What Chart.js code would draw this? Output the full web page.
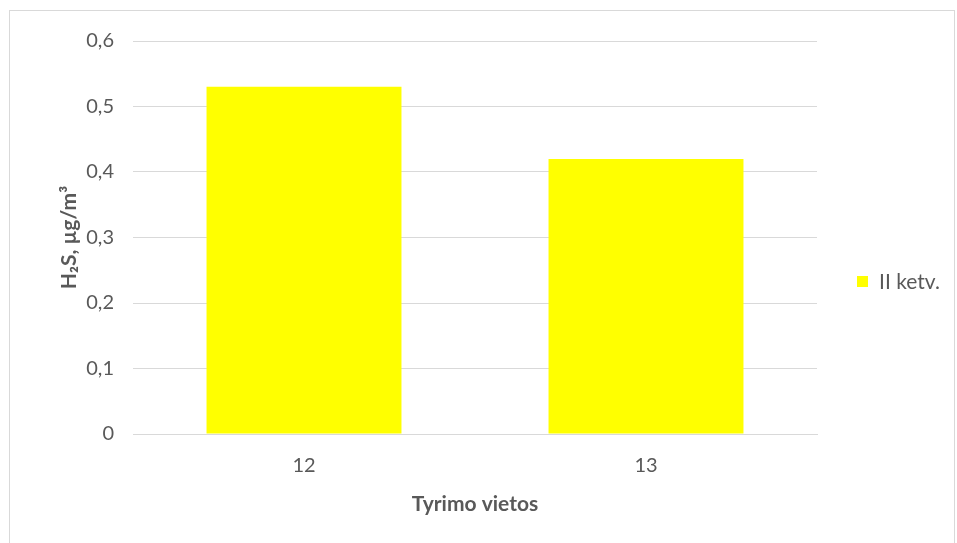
<!DOCTYPE html>
<html>
<head>
<meta charset="utf-8">
<script src="https://cdn.jsdelivr.net/npm/chart.js@4.4.0/dist/chart.umd.min.js"></script>
<style>
    html, body { margin: 0; padding: 0; background: #fff; }
    #wrap { position: relative; width: 957px; height: 543px; overflow: hidden; }
    #frame { position: absolute; left: 9px; top: 10px; width: 946px; height: 540px; border: 1px solid #d9d9d9; box-sizing: border-box; }
    canvas { position: absolute; left: 0; top: 0; }
</style>
</head>
<body>
<div id="wrap">
    <div id="frame"></div>
    <canvas id="chart" width="957" height="543"></canvas>
</div>
<script>
const categories = ['12', '13'];
const seriesLabel = 'II ketv.';
const seriesValues = [0.53, 0.42];
const yTicks = [0, 0.1, 0.2, 0.3, 0.4, 0.5, 0.6];

const textColor = '#595959';
const fontFamily = 'Lato, "Open Sans", sans-serif';

// legend drawn by hand so it can sit where Excel puts it
const sideLegend = {
    id: 'sideLegend',
    afterDraw(chart) {
        const ctx = chart.ctx;
        const ds = chart.data.datasets[0];
        ctx.save();
        ctx.fillStyle = ds.backgroundColor;
        ctx.fillRect(857, 276, 11, 11);
        ctx.fillStyle = textColor;
        ctx.font = '21px ' + fontFamily;
        ctx.textBaseline = 'middle';
        ctx.textAlign = 'left';
        ctx.fillText(ds.label, 879, 282);
        ctx.restore();
    }
};

const ctx = document.getElementById('chart').getContext('2d');
new Chart(ctx, {
    type: 'bar',
    data: {
        labels: categories,
        datasets: [{
            label: seriesLabel,
            data: seriesValues,
            backgroundColor: '#ffff00',
            barPercentage: 0.57,
            categoryPercentage: 1
        }]
    },
    options: {
        responsive: false,
        animation: false,
        layout: { padding: { left: 57, right: 140, top: 41, bottom: 26 } },
        plugins: {
            legend: { display: false },
            tooltip: { enabled: false }
        },
        scales: {
            x: {
                grid: { display: false },
                border: { color: '#d9d9d9' },
                ticks: { color: textColor, font: { family: fontFamily, size: 20 }, padding: 12 },
                title: {
                    display: true,
                    text: 'Tyrimo vietos',
                    color: textColor,
                    font: { family: fontFamily, size: 21, weight: 'bold' },
                    padding: 0
                },
                afterFit(scale) { scale.height = 83; }
            },
            y: {
                min: 0,
                max: 0.6,
                afterBuildTicks(scale) { scale.ticks = yTicks.map(v => ({ value: v })); },
                grid: { color: '#d9d9d9', drawTicks: false },
                border: { display: false },
                ticks: {
                    color: textColor,
                    font: { family: fontFamily, size: 20 },
                    padding: 19,
                    callback: v => v === 0 ? '0' : v.toFixed(1).replace('.', ',')
                },
                title: {
                    display: true,
                    text: 'H₂S, µg/m³',
                    color: textColor,
                    font: { family: fontFamily, size: 21, weight: 'bold' },
                    padding: 0
                },
                afterFit(scale) { scale.width = 76; }
            }
        }
    },
    plugins: [sideLegend]
});
</script>
</body>
</html>
